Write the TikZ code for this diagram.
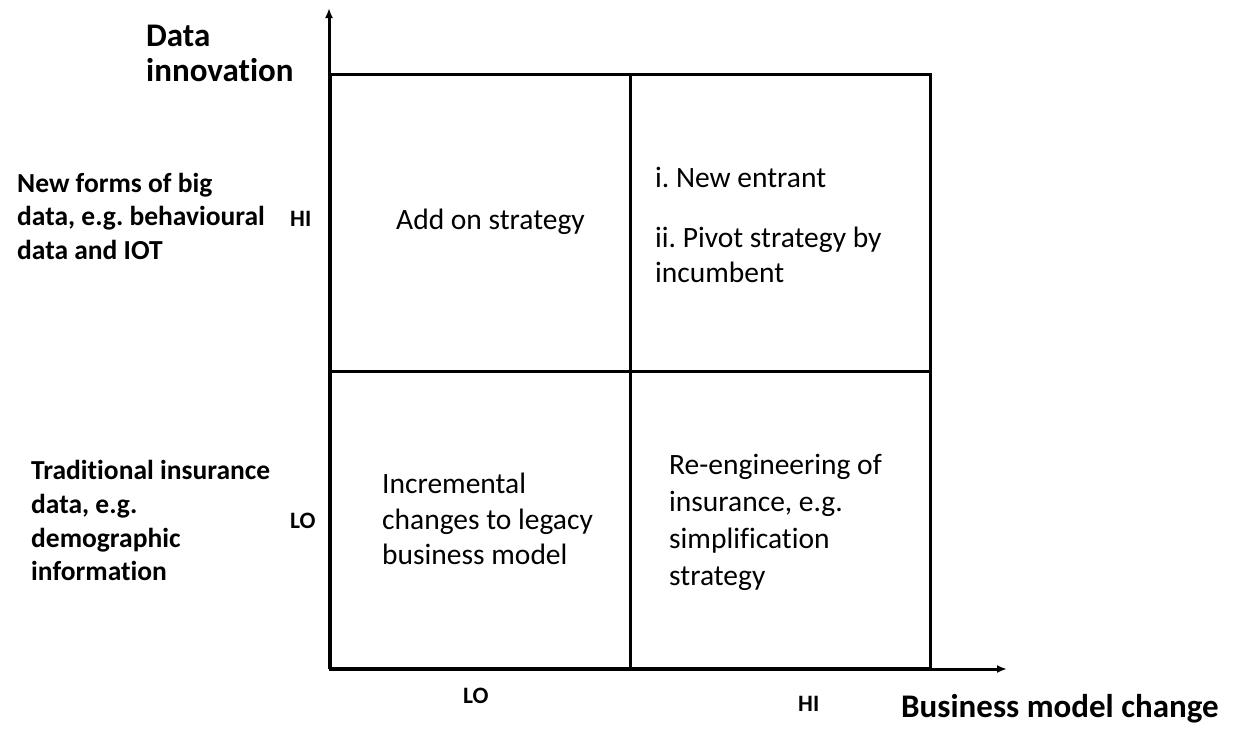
\documentclass[tikz,border=0pt]{standalone}
\usepackage{fontspec}
\setmainfont[Ligatures=CommonOff]{Carlito}
\usetikzlibrary{arrows.meta}
\frenchspacing
\begin{document}
\begin{tikzpicture}[x=1pt,y=-1pt,
  quad/.style={draw,line width=3pt,minimum width=300pt,minimum height=297pt,inner sep=0pt,anchor=north west},
  axis/.style={line width=3pt,-{Latex[length=10pt,width=8pt]}},
  qtext/.style={anchor=base west,inner sep=0pt,font=\fontsize{29.5}{36}\selectfont},
  title/.style={anchor=base west,inner sep=0pt,font=\fontsize{33}{35}\selectfont\bfseries},
  side/.style={anchor=base west,inner sep=0pt,font=\fontsize{27.5}{33.5}\selectfont\bfseries},
  level/.style={anchor=base west,inner sep=0pt,font=\fontsize{23.5}{23.5}\selectfont\bfseries}]
\useasboundingbox (0,0) rectangle (1240,748);
\node[quad] (q1) at (329,73) {};
\node[quad] (q2) at (629,73) {};
\node[quad] (q3) at (329,370) {};
\node[quad] (q4) at (629,370) {};
\coordinate (O) at (329,669);
\coordinate (ytop) at (329,8);
\coordinate (xend) at (1007,669);
\draw[axis] (O) -- (ytop);
\draw[axis] (O) -- (xend);
% titles
\node[title] (t1) at (146,46) {Data};
\node[title] (t2) at (146,81) {innovation};
\node[title] (t3) at (901,717) {Business model change};
% side labels
\node[side] (s1) at (17,192) {New forms of big};
\node[side] (s2) at (17,225.5) {data, e.g. behavioural};
\node[side] (s3) at (17,259) {data and IOT};
\node[side] (s4) at (31,479) {Traditional insurance};
\node[side] (s5) at (31,513) {data, e.g.};
\node[side] (s6) at (31,547) {demographic};
\node[side] (s7) at (31,580) {information};
% levels
\node[level] (hy) at (290,226) {HI};
\node[level] (ly) at (290,528) {LO};
\node[level] (lx) at (463,703) {LO};
\node[level] (hx) at (798,711) {HI};
% quadrant texts
\node[qtext] (a1) at (396,229) {Add on strategy};
\node[qtext] (b1) at (655,187) {i. New entrant};
\node[qtext] (b2) at (655,247) {ii. Pivot strategy by};
\node[qtext] (b3) at (655,282) {incumbent};
\node[qtext] (c1) at (382,493) {Incremental};
\node[qtext] (c2) at (382,529) {changes to legacy};
\node[qtext] (c3) at (382,564) {business model};
\node[qtext] (d1) at (669,474) {Re-engineering of};
\node[qtext] (d2) at (669,511) {insurance, e.g.};
\node[qtext] (d3) at (669,548) {simplification};
\node[qtext] (d4) at (669,585) {strategy};
\end{tikzpicture}
\end{document}
